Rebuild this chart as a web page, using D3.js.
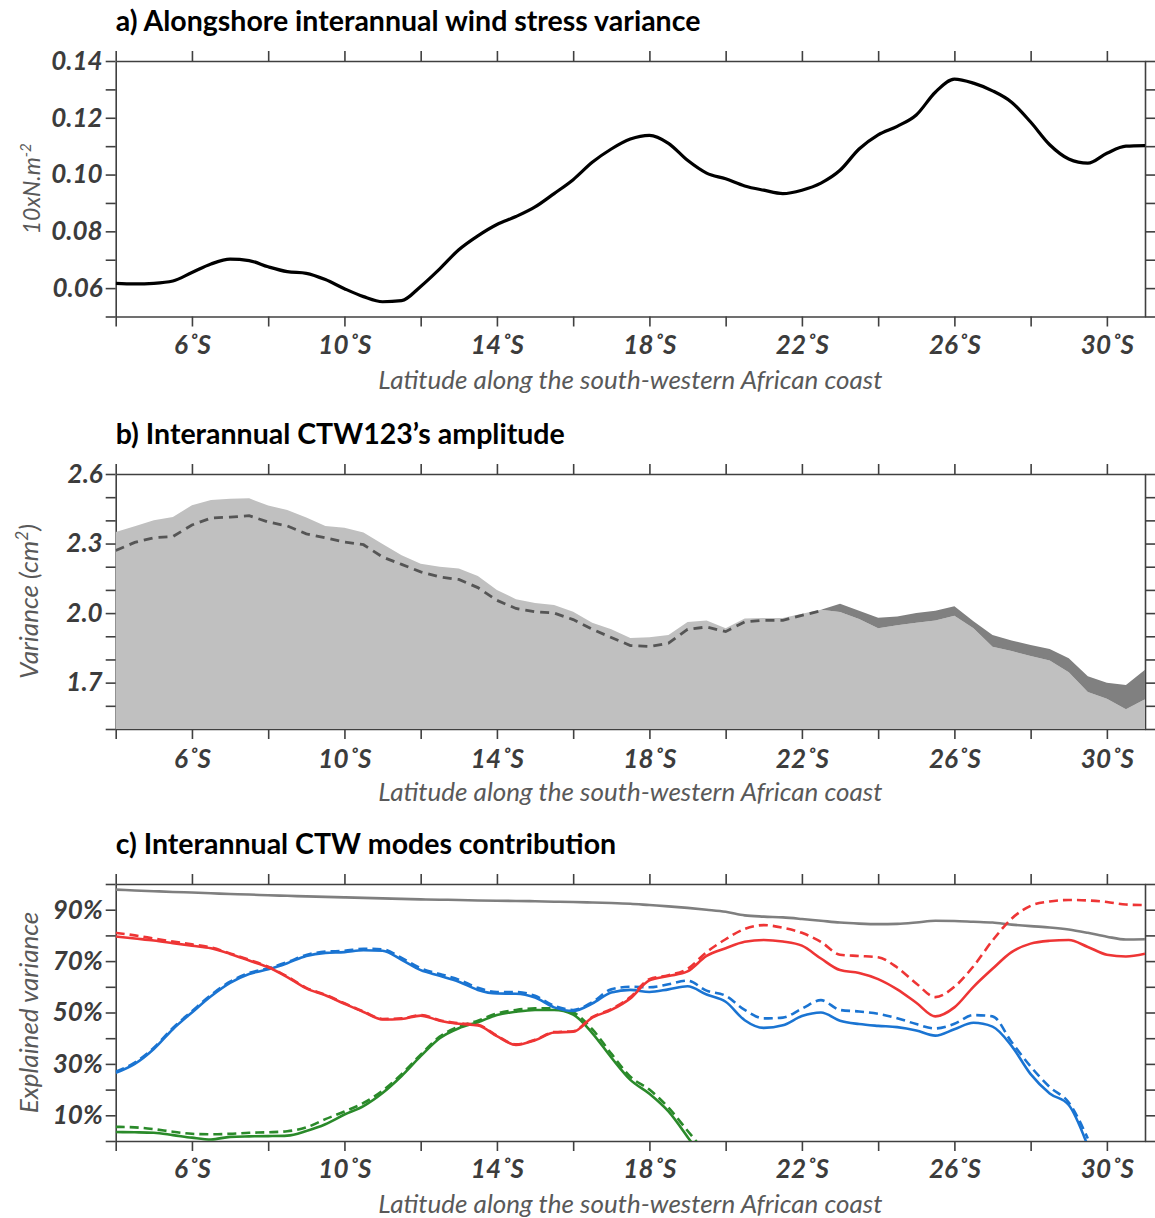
<!DOCTYPE html>
<html>
<head>
<meta charset="utf-8">
<script src="https://cdn.jsdelivr.net/npm/d3@7"></script>
<style>
  body { margin: 0; background: #fff; }
  svg { display: block; }
  text { font-family: Lato, "Open Sans", sans-serif; }
</style>
</head>
<body>
<svg id="fig" width="1155" height="1218"></svg>
<script>
// ---------- data: latitude along the coast (degrees south) ----------
const lat = [4.0, 4.5, 5.0, 5.5, 6.0, 6.5, 7.0, 7.5, 8.0, 8.5, 9.0, 9.5, 10.0, 10.5, 11.0, 11.5,
  12.0, 12.5, 13.0, 13.5, 14.0, 14.5, 15.0, 15.5, 16.0, 16.5, 17.0, 17.5, 18.0, 18.5, 19.0, 19.5,
  20.0, 20.5, 21.0, 21.5, 22.0, 22.5, 23.0, 23.5, 24.0, 24.5, 25.0, 25.5, 26.0, 26.5, 27.0, 27.5,
  28.0, 28.5, 29.0, 29.5, 30.0, 30.5, 31.0];

// a) alongshore interannual wind stress variance (10xN.m-2)
const windVar = [0.0617, 0.0615, 0.0617, 0.0625, 0.0655, 0.0685, 0.0702, 0.0697, 0.0675, 0.0658,
  0.0652, 0.0630, 0.0598, 0.0570, 0.0552, 0.0556, 0.0606, 0.0668, 0.0735, 0.0784, 0.0824, 0.0852,
  0.0886, 0.0933, 0.0982, 0.1043, 0.1090, 0.1125, 0.1138, 0.1110, 0.1050, 0.1005, 0.0985, 0.0960,
  0.0945, 0.0933, 0.0945, 0.0970, 0.1015, 0.1090, 0.1140, 0.1170, 0.1210, 0.1290, 0.1336, 0.1322,
  0.1295, 0.1255, 0.1185, 0.1105, 0.1055, 0.1040, 0.1075, 0.1100, 0.1102];

// b) interannual variance (cm2): total and CTW123 reconstruction
const totalVar = [2.350, 2.375, 2.400, 2.415, 2.465, 2.488, 2.493, 2.495, 2.464, 2.445, 2.412, 2.376,
  2.368, 2.348, 2.298, 2.250, 2.213, 2.200, 2.192, 2.160, 2.100, 2.060, 2.043, 2.035, 2.006, 1.958,
  1.930, 1.893, 1.896, 1.905, 1.962, 1.968, 1.935, 1.977, 1.979, 1.979, 1.997, 2.014, 2.005, 1.975,
  1.935, 1.948, 1.958, 1.968, 1.988, 1.935, 1.855, 1.836, 1.815, 1.795, 1.745, 1.660, 1.630, 1.585,
  1.628];
const ctw123Var = [2.270, 2.305, 2.325, 2.330, 2.380, 2.410, 2.414, 2.420, 2.393, 2.376, 2.342, 2.325,
  2.306, 2.295, 2.242, 2.210, 2.178, 2.156, 2.145, 2.110, 2.055, 2.020, 2.006, 2.000, 1.972, 1.930,
  1.895, 1.860, 1.856, 1.870, 1.930, 1.940, 1.920, 1.962, 1.969, 1.969, 1.990, 2.010, 2.040, 2.010,
  1.980, 1.985, 2.000, 2.010, 2.030, 1.965, 1.905, 1.882, 1.862, 1.845, 1.805, 1.728, 1.700, 1.690,
  1.756];

// c) explained variance (%) by the CTW modes; "Ref" = solid, "Alt" = dashed
const sumModes = [97.8, 97.5, 97.2, 96.9, 96.7, 96.4, 96.1, 95.9, 95.6, 95.4, 95.2, 95.0, 94.8, 94.6,
  94.4, 94.2, 94.0, 93.9, 93.8, 93.6, 93.5, 93.4, 93.3, 93.1, 93.0, 92.8, 92.6, 92.3, 91.8, 91.3,
  90.7, 90.0, 89.2, 87.8, 87.3, 87.0, 86.4, 85.7, 85.0, 84.6, 84.4, 84.5, 85.0, 85.7, 85.6, 85.3,
  85.0, 84.2, 83.6, 83.1, 82.3, 81.0, 79.5, 78.4, 78.5];
const mode1Ref = [79.6, 78.8, 78.0, 77.0, 76.0, 75.0, 72.8, 70.2, 67.6, 63.8, 59.4, 56.7, 53.4, 50.2,
  47.3, 47.5, 48.8, 46.8, 45.6, 45.0, 40.8, 37.4, 39.2, 42.2, 42.5, 48.0, 51.0, 55.5, 62.5, 64.2,
  66.0, 72.0, 75.0, 77.5, 78.2, 77.6, 76.0, 71.0, 66.5, 65.4, 63.0, 59.0, 53.8, 48.5, 52.0, 60.0,
  67.0, 73.5, 76.8, 77.9, 78.2, 75.5, 72.5, 71.8, 72.9];
const mode1Alt = [81.0, 80.0, 78.8, 77.6, 76.5, 75.3, 73.0, 70.5, 67.8, 64.0, 59.6, 56.9, 53.6, 50.4,
  47.5, 47.7, 49.0, 47.0, 45.8, 45.2, 41.0, 37.6, 39.4, 42.4, 42.7, 48.2, 51.3, 56.0, 63.0, 64.5,
  67.0, 73.5, 78.5, 82.5, 84.0, 83.0, 81.0, 77.5, 72.5, 72.0, 71.5, 67.5, 61.3, 56.0, 60.0, 68.0,
  78.0, 86.5, 91.5, 93.2, 93.8, 93.6, 93.0, 92.0, 91.8];
const mode2Ref = [26.5, 30.0, 35.8, 43.5, 50.0, 56.3, 61.5, 65.0, 66.8, 69.2, 72.0, 73.2, 73.5, 74.2,
  74.0, 70.5, 66.5, 64.3, 62.0, 58.8, 57.4, 57.3, 55.8, 52.0, 50.6, 53.5, 57.8, 58.8, 58.0, 59.0,
  60.2, 57.0, 54.2, 47.0, 44.0, 45.0, 48.6, 50.0, 46.8, 45.5, 44.8, 44.3, 43.0, 41.0, 43.5, 46.0,
  44.5, 37.0, 26.0, 18.5, 14.0, -2.0, null, null, null];
const mode2Alt = [27.0, 30.5, 36.3, 44.0, 50.5, 56.8, 62.0, 65.4, 67.2, 69.6, 72.4, 73.7, 74.0, 74.8,
  74.6, 71.2, 67.2, 65.0, 62.8, 59.6, 58.0, 58.0, 56.5, 52.6, 51.0, 54.0, 59.0, 60.0, 59.8, 61.0,
  62.4, 58.5, 56.5, 51.0, 47.7, 48.0, 51.5, 54.8, 51.0, 50.4, 49.5, 47.8, 45.5, 43.8, 45.6, 49.0,
  48.5, 38.5, 29.0, 21.0, 15.0, 1.0, null, null, null];
const mode3Ref = [3.5, 3.4, 3.2, 2.3, 1.3, 0.6, 1.6, 1.8, 1.9, 2.1, 3.9, 6.5, 10.3, 13.6, 18.7, 25.3,
  33.0, 40.0, 43.9, 46.2, 49.0, 50.3, 51.0, 51.0, 49.2, 42.0, 32.5, 23.8, 18.4, 11.5, 1.6, -9.0,
  null, null, null, null, null, null, null, null, null, null, null, null, null, null, null, null,
  null, null, null, null, null, null, null];
const mode3Alt = [5.5, 5.3, 4.6, 3.6, 2.8, 2.6, 2.8, 3.2, 3.4, 3.8, 5.3, 8.5, 11.5, 14.8, 19.6, 26.0,
  33.6, 40.6, 44.5, 46.8, 49.6, 51.0, 51.6, 51.6, 50.0, 43.5, 34.0, 25.0, 20.0, 13.0, 4.0, -5.0,
  null, null, null, null, null, null, null, null, null, null, null, null, null, null, null, null,
  null, null, null, null, null, null, null];

// ---------- tick values and labels ----------
const latTicks = [4, 6, 8, 10, 12, 14, 16, 18, 20, 22, 24, 26, 28, 30];
const latLabelled = [6, 10, 14, 18, 22, 26, 30];
const windTicks = [0.05, 0.06, 0.07, 0.08, 0.09, 0.10, 0.11, 0.12, 0.13, 0.14];
const windLabelled = [0.06, 0.08, 0.10, 0.12, 0.14];
const varTicks = [1.5, 1.6, 1.7, 1.8, 1.9, 2.0, 2.1, 2.2, 2.3, 2.4, 2.5, 2.6];
const varLabelled = [1.7, 2.0, 2.3, 2.6];
const pctTicks = [0, 10, 20, 30, 40, 50, 60, 70, 80, 90, 100];
const pctLabelled = [10, 30, 50, 70, 90];

// ---------- layout ----------
const svg = d3.select("#fig");
const left = 115.7, right = 1145;
const x = d3.scaleLinear().domain([4, 31]).range([left, right]);
const axisColor = "#404040";
const tickFont = "bold italic 26px Lato, 'Open Sans', sans-serif";
const near = (arr, v) => arr.some(a => Math.abs(a - v) < 1e-9);

function panel(opts) {
  const g = svg.append("g");
  const y = d3.scaleLinear().domain(opts.domain).range([opts.bottom, opts.top]);

  const styleAxis = sel => {
    sel.select(".domain").attr("stroke", axisColor).attr("stroke-width", 1.6);
    sel.selectAll(".tick line").attr("stroke", axisColor).attr("stroke-width", 1.6);
    sel.selectAll(".tick text").attr("fill", "#3c3c3c").style("font", tickFont);
  };

  // left axis with sparse labels
  g.append("g").attr("transform", `translate(${left},0)`)
    .call(d3.axisLeft(y).tickValues(opts.ticks).tickSize(10).tickSizeOuter(0).tickPadding(3)
      .tickFormat(d => near(opts.labelled, d) ? opts.fmt(d) : ""))
    .call(styleAxis);
  g.append("g").attr("transform", `translate(${right},0)`)
    .call(d3.axisRight(y).tickValues(opts.ticks).tickSize(10).tickSizeOuter(0).tickFormat(""))
    .call(styleAxis);
  g.append("g").attr("transform", `translate(0,${opts.top})`)
    .call(d3.axisTop(x).tickValues(latTicks).tickSize(10).tickSizeOuter(0).tickFormat(""))
    .call(styleAxis);
  g.append("g").attr("transform", `translate(0,${opts.bottom})`)
    .call(d3.axisBottom(x).tickValues(latTicks).tickSize(10).tickSizeOuter(0).tickPadding(opts.xPad)
      .tickFormat(d => near(latLabelled, d) ? d + "˚S" : ""))
    .call(styleAxis);

  // panel title
  svg.append("text").attr("x", left).attr("y", opts.top - 30)
    .attr("fill", "#000").style("font", "bold 28.5px Lato, 'Open Sans', sans-serif")
    .text(opts.title);

  // x axis title
  svg.append("text").attr("x", (left + right) / 2).attr("y", opts.bottom + 72)
    .attr("text-anchor", "middle").attr("fill", "#595959")
    .style("font", "italic 26px Lato, 'Open Sans', sans-serif")
    .text("Latitude along the south-western African coast");

  // y axis title
  const yt = svg.append("text")
    .attr("transform", `translate(${opts.yTitleX},${(opts.top + opts.bottom) / 2}) rotate(-90)`)
    .attr("text-anchor", "middle").attr("fill", "#595959")
    .style("font", `italic ${opts.yTitleSize}px Lato, 'Open Sans', sans-serif`);
  opts.ylabel(yt);

  // clip region for the plotted marks
  const id = "clip-" + opts.key;
  svg.append("clipPath").attr("id", id).append("rect")
    .attr("x", left).attr("y", opts.top).attr("width", right - left).attr("height", opts.bottom - opts.top);
  const plot = svg.append("g").attr("clip-path", `url(#${id})`);
  return { y, plot, g };
}

// ---------- a) wind stress variance ----------
const pa = panel({
  key: "a", top: 61, bottom: 316.5, domain: [0.05, 0.14], xPad: 9, yTitleX: 40, yTitleSize: 23,
  ticks: windTicks, labelled: windLabelled, fmt: d3.format(".2f"),
  title: "a) Alongshore interannual wind stress variance",
  ylabel: t => { t.append("tspan").text("10xN.m"); t.append("tspan").attr("dy", -9).style("font-size", "15px").text("-2"); }
});
pa.plot.append("path")
  .datum(lat.map((l, i) => [l, windVar[i]]))
  .attr("fill", "none").attr("stroke", "#000").attr("stroke-width", 3.2)
  .attr("d", d3.line().x(d => x(d[0])).y(d => pa.y(d[1])).curve(d3.curveMonotoneX));

// ---------- b) CTW123 amplitude ----------
const pb = panel({
  key: "b", top: 474, bottom: 729, domain: [1.5, 2.6], xPad: 11, yTitleX: 38, yTitleSize: 26,
  ticks: varTicks, labelled: varLabelled, fmt: d3.format(".1f"),
  title: "b) Interannual CTW123’s amplitude",
  ylabel: t => { t.append("tspan").text("Variance (cm"); t.append("tspan").attr("dy", -10).style("font-size", "17px").text("2"); t.append("tspan").attr("dy", 10).text(")"); }
});
const rowsB = lat.map((l, i) => ({ l, a: totalVar[i], b: ctw123Var[i] }));
pb.plot.append("path").datum(rowsB)
  .attr("fill", "#c0c0c0")
  .attr("d", d3.area().x(d => x(d.l)).y0(pb.y(1.5)).y1(d => pb.y(d.a)));
// dashed reconstruction where it stays under the total
pb.plot.append("path").datum(rowsB)
  .attr("fill", "none").attr("stroke", "#555").attr("stroke-width", 2.8).attr("stroke-dasharray", "9,6")
  .attr("d", d3.line().defined(d => d.b <= d.a + 0.002).x(d => x(d.l)).y(d => pb.y(d.b)));
// band where the reconstruction exceeds the total
pb.plot.append("path").datum(rowsB)
  .attr("fill", "#808080")
  .attr("d", d3.area().x(d => x(d.l)).y0(d => pb.y(d.a)).y1(d => pb.y(Math.max(d.a, d.b))));

// ---------- c) CTW modes contribution ----------
const pc = panel({
  key: "c", top: 884, bottom: 1141, domain: [0, 100], xPad: 9, yTitleX: 38, yTitleSize: 26,
  ticks: pctTicks, labelled: pctLabelled, fmt: d => d + "%",
  title: "c) Interannual CTW modes contribution",
  ylabel: t => t.text("Explained variance")
});
const seriesC = [
  { v: sumModes, color: "#7f7f7f", dash: null },
  { v: mode3Alt, color: "#2a8a2a", dash: "9,5" },
  { v: mode3Ref, color: "#2a8a2a", dash: null },
  { v: mode2Alt, color: "#1a74d2", dash: "9,5" },
  { v: mode2Ref, color: "#1a74d2", dash: null },
  { v: mode1Alt, color: "#ee3535", dash: "9,5" },
  { v: mode1Ref, color: "#ee3535", dash: null }
];
const lineC = d3.line().defined(d => d[1] !== null).x(d => x(d[0])).y(d => pc.y(d[1]))
  .curve(d3.curveMonotoneX);
seriesC.forEach(s => {
  pc.plot.append("path")
    .datum(lat.map((l, i) => [l, s.v[i]]))
    .attr("fill", "none").attr("stroke", s.color).attr("stroke-width", 2.6)
    .attr("stroke-dasharray", s.dash)
    .attr("d", lineC);
});
</script>
</body>
</html>
